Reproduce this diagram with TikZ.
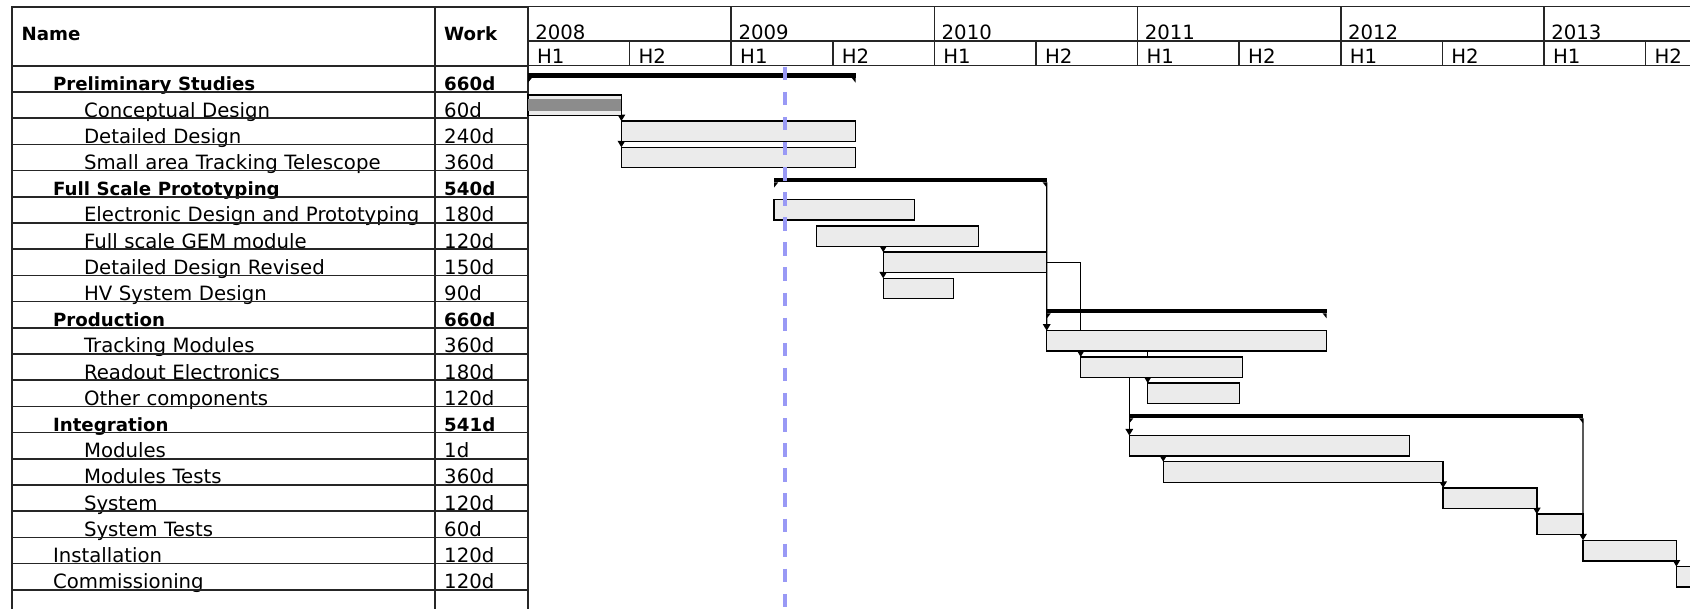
\documentclass[tikz,border=0pt]{standalone}
\usepackage{fontspec}
\setmainfont{DejaVu Sans}
\usetikzlibrary{matrix,backgrounds}
\usetikzlibrary{arrows.meta}

\definecolor{rule}{HTML}{262626}
\definecolor{barfill}{HTML}{EBEBEB}
\definecolor{donefill}{HTML}{8C8C8C}
\definecolor{todayblue}{HTML}{9999F5}

\newcommand\hd{\fontsize{18.2}{22}\selectfont\bfseries}
\newcommand\grp[1]{\hspace*{31.4pt}{\hd #1}}
\newcommand\maintask[1]{\hspace*{31.4pt}#1}
\newcommand\subtask[1]{\hspace*{62.4pt}#1}

\begin{document}
\begin{tikzpicture}[x=1pt, y=-1pt,
      font=\fontsize{19.7}{22}\selectfont,
      cell/.style={draw=rule, line width=1.7pt, inner ysep=0pt, align=left,
          text height=25.2pt, text depth=1pt},
      yearcell/.style={draw=rule, line width=1.7pt, outer sep=0pt, anchor=north west,
          inner xsep=7.3pt, inner ysep=0pt, text width=188.6pt, align=left,
          text height=33.5pt, text depth=1pt},
      halfcell/.style={yearcell, inner xsep=9pt, text width=83.6pt,
          text height=23pt, text depth=1.5pt},
      bar/.style={draw, line width=1.4pt, fill=barfill, anchor=north west,
          inner sep=0pt, outer sep=0pt, minimum height=20.5pt},
      summary/.style={fill=black, anchor=north west, inner sep=0pt, outer sep=0pt,
          minimum height=4.5pt},
      dep/.style={draw, line width=1.2pt, -{Triangle[width=7.5pt,length=6.5pt]}},
      today/.style={draw=todayblue, line width=3.6pt, dash pattern=on 13.5pt off 11.6pt}]

    \useasboundingbox (0,0) rectangle (1690,609);
    \clip (0,0) rectangle (1690,609);

    \matrix (tbl) [matrix of nodes, anchor=north west, inner sep=0pt,
        row sep=-1.7pt, column sep=-1.7pt, nodes in empty cells, nodes={cell},
        column 1/.style={nodes={text width=404pt, inner xsep=9.6pt}},
        column 2/.style={nodes={text width=75pt, inner xsep=9pt}},
        row 1/.style={nodes={font=\hd, text height=33.5pt, text depth=25.5pt}},
        row 22/.style={nodes={text height=40pt, text depth=0pt}}]
      at (11,5.7) {
        Name & Work \\
        \grp{Preliminary Studies} & \hd 660d \\
        \subtask{Conceptual Design} & 60d \\
        \subtask{Detailed Design} & 240d \\
        \subtask{Small area Tracking Telescope} & 360d \\
        \grp{Full Scale Prototyping} & \hd 540d \\
        \subtask{Electronic Design and Prototyping} & 180d \\
        \subtask{Full scale GEM module} & 120d \\
        \subtask{Detailed Design Revised} & 150d \\
        \subtask{HV System Design} & 90d \\
        \grp{Production} & \hd 660d \\
        \subtask{Tracking Modules} & 360d \\
        \subtask{Readout Electronics} & 180d \\
        \subtask{Other components} & 120d \\
        \grp{Integration} & \hd 541d \\
        \subtask{Modules} & 1d \\
        \subtask{Modules Tests} & 360d \\
        \subtask{System} & 120d \\
        \subtask{System Tests} & 60d \\
        \maintask{Installation} & 120d \\
        \maintask{Commissioning} & 120d \\
        & \\
      };

    % time scale
    \foreach \y [count=\i from 0] in {2008,...,2013} {
      \node[yearcell] (y\y) at (528+\i*203.2, 6.5) {\y};
      \node[halfcell] (y\y-h1) at (y\y.south west) {H1};
      \node[halfcell] (y\y-h2) at (y\y-h1.north east) {H2};
    }

    % tasks: name/row/start/end
    \foreach \n/\k/\xa/\xb in {concept/2/528/621.4, detail/3/621.4/855.6,
        telescope/4/621.4/855.6, elec/6/774.1/914.6, gem/7/816.6/978.5,
        revised/8/883.2/1046.7, hv/9/883.2/953.2, track/11/1046.7/1326.7,
        readout/12/1080.7/1242.7, other/13/1147.7/1239.3, modules/15/1129.3/1409.3,
        mtests/16/1163.2/1443.1, system/17/1443.1/1536.8, stests/18/1536.8/1583,
        install/19/1583/1676.4, commis/20/1676.4/1780}
      \node[bar, minimum width={\xb-\xa}] (\n) at (\xa, 42.5+\k*26.2) {};
    \fill[donefill] ([yshift=-4pt]concept.north west) rectangle ([yshift=4pt]concept.south east);

    \foreach \n/\k/\xa/\xb in {prelim/1/528/855.6, proto/5/774.1/1046.7,
        prod/10/1046.7/1326.7, integ/14/1129.3/1583} {
      \node[summary, minimum width={\xb-\xa}] (\n) at (\xa, 47+\k*26.2) {};
      \fill (\n.south west) -- ++(4,0) -- ++(-4,5) -- cycle;
      \fill (\n.south east) -- ++(-4,0) -- ++(4,5) -- cycle;
    }

    \begin{scope}[on background layer]
      \draw[dep] (concept.south east) -- (detail.north west);
      \draw[dep] (concept.south east) -- (telescope.north west);
      \draw[dep] (gem.south -| revised.north west) -- (revised.north west);
      \draw[dep] (revised.south west) -- (hv.north west);
      \draw[dep] (proto.south east) -- (track.north west);
      \draw[dep] (revised.east) -| (readout.north west);
      \draw[dep] (track.south -| other.north west) -- (other.north west);
      \draw[dep] (readout.south -| modules.north west) -- (modules.north west);
      \draw[dep] (modules.south -| mtests.north west) -- (mtests.north west);
      \draw[dep] (mtests.south east) -- (system.north west);
      \draw[dep] (system.south east) -- (stests.north west);
      \draw[dep] (integ.south east) -- (install.north west);
      \draw[dep] (install.south east) -- (commis.north west);
    \end{scope}

    \draw[today] (784.7,66.7) -- (784.7,640);
\end{tikzpicture}
\end{document}
